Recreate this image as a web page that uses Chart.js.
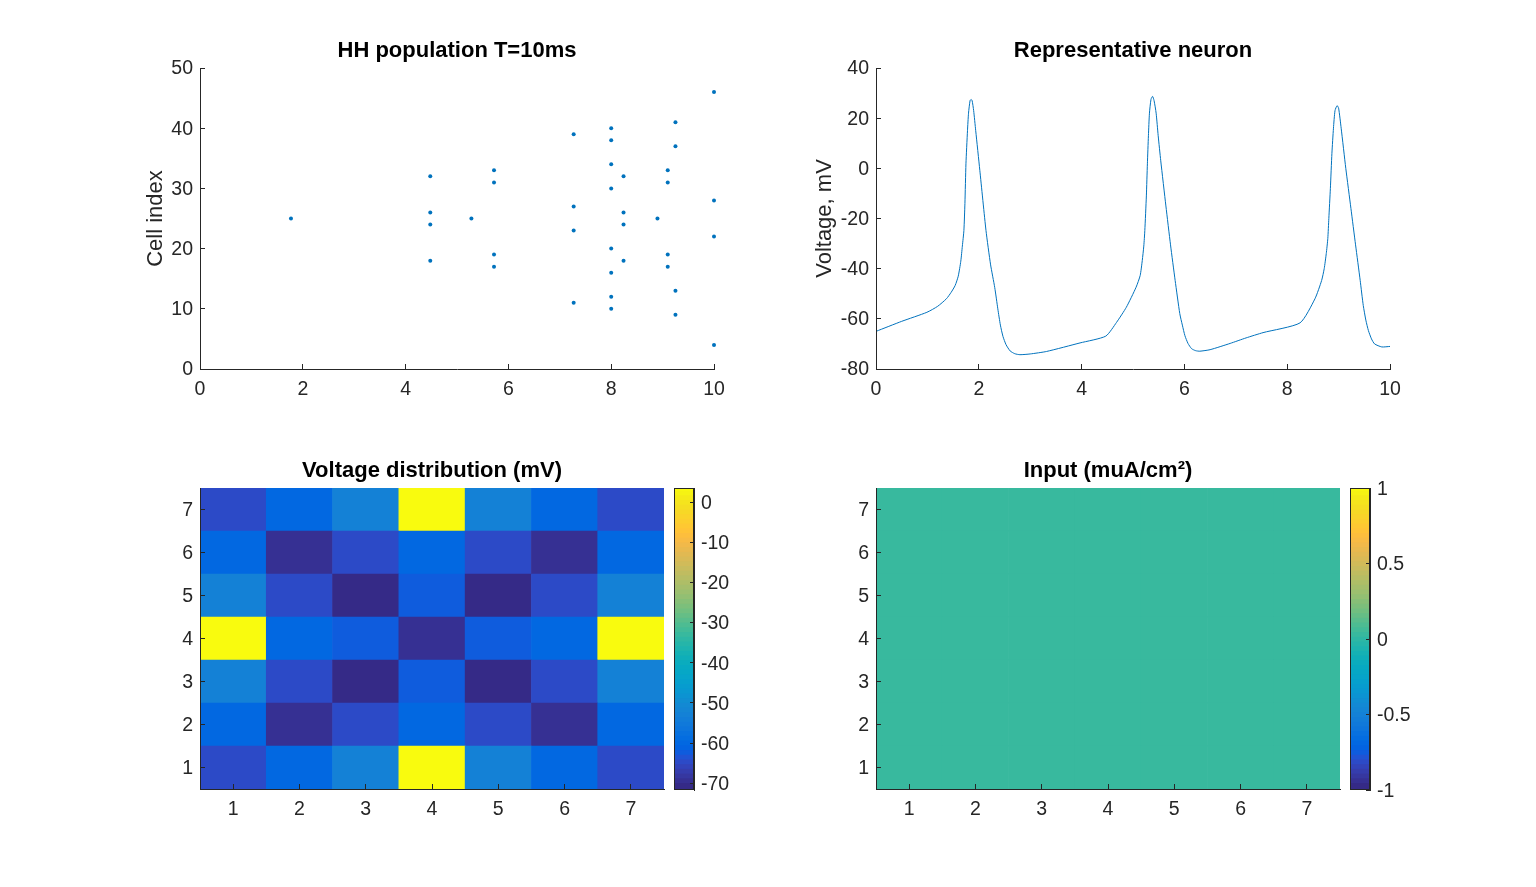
<!DOCTYPE html>
<html>
<head>
<meta charset="utf-8">
<title>HH population</title>
<script src="https://cdn.jsdelivr.net/npm/chart.js@4/dist/chart.umd.min.js"></script>
<style>
html, body { margin: 0; padding: 0; background: #fff; }
body { position: relative; width: 1536px; height: 887px; overflow: hidden; }
canvas { position: absolute; }
</style>
</head>
<body>
<canvas id="raster"></canvas>
<canvas id="neuron"></canvas>
<canvas id="voltage"></canvas>
<canvas id="voltageBar"></canvas>
<canvas id="input"></canvas>
<canvas id="inputBar"></canvas>
<script>
// raster: spike times and the cell that fired
const spikeTimes = [1.77, 4.48, 4.48, 4.48, 4.48, 5.28, 5.72, 5.72, 5.72, 5.72, 7.27, 7.27, 7.27, 7.27,
    8, 8, 8, 8, 8, 8, 8, 8, 8.24, 8.24, 8.24, 8.24, 8.9, 9.1, 9.1, 9.1, 9.1, 9.25, 9.25, 9.25, 9.25, 10, 10, 10, 10];
const spikeCells = [25, 32, 26, 24, 18, 25, 33, 31, 19, 17, 39, 27, 23, 11,
    40, 38, 34, 30, 20, 16, 12, 10, 32, 26, 24, 18, 25, 33, 31, 19, 17, 41, 37, 13, 9, 46, 28, 22, 4];

// representative neuron trace
const traceTime = [0, 0.5, 0.99, 1.2, 1.37, 1.46, 1.54, 1.6, 1.65, 1.68, 1.71, 1.73, 1.75, 1.78, 1.8, 1.83, 1.85, 1.87, 1.9, 1.94, 2.02, 2.14, 2.23, 2.31, 2.37, 2.42, 2.47, 2.53, 2.61, 2.7, 2.8, 3, 3.32, 3.97, 4.47,
    4.68, 4.87, 5.06, 5.14, 5.18, 5.21, 5.23, 5.26, 5.28, 5.3, 5.32, 5.35, 5.38, 5.41, 5.45, 5.49, 5.54, 5.64, 5.73, 5.82, 5.91, 5.96, 6.01, 6.07, 6.14, 6.22, 6.3, 6.5, 6.89, 7.2, 7.53, 8.25,
    8.54, 8.67, 8.72, 8.76, 8.79, 8.81, 8.84, 8.87, 8.9, 8.93, 8.97, 9, 9.05, 9.14, 9.24, 9.33, 9.42, 9.48, 9.53, 9.58, 9.64, 9.7, 9.84, 10];
const traceVolt = [-65, -61, -57.4, -55, -52, -49.5, -46.7, -43, -37, -31, -24.8, -14, 1.8, 15, 22, 27, 27.5, 27, 23, 15, -0.8, -24.8, -38.5, -47.5, -56, -62.5, -67, -70.3, -72.8, -73.9, -74.3, -74, -73, -69.6, -66.9,
    -61.4, -55.4, -47.4, -42.7, -36.8, -31, -24.8, -11, 1.8, 13, 22, 27.5, 28.7, 27, 22, 13, 3, -15, -30.5, -44.7, -57.9, -62.5, -66.7, -69.8, -71.9, -72.7, -72.9, -72.3, -69.8, -67.6, -65.5, -61.6,
    -52, -44.7, -40, -34, -28, -20, -8, 6, 16, 23, 25, 24, 16, 0, -16, -30.5, -44.7, -54.7, -60.5, -64.7, -68, -70, -71.2, -71];

// voltage distribution, rows from y=1 to y=7
const gridCategories = ['1', '2', '3', '4', '5', '6', '7'];
const gridRows = [1, 2, 3, 4, 5, 6, 7];
const voltageCells = [
    [-65, -60.5, -53.5, 3.5, -53.5, -60.5, -65],
    [-60.5, -70, -65, -60.5, -65, -70, -60.5],
    [-53.5, -65, -71, -63, -71, -65, -53.5],
    [3.5, -60.5, -63, -70, -63, -60.5, 3.5],
    [-53.5, -65, -71, -63, -71, -65, -53.5],
    [-60.5, -70, -65, -60.5, -65, -70, -60.5],
    [-65, -60.5, -53.5, 3.5, -53.5, -60.5, -65]
];
const voltageLimits = [-71.7, 3.5];
const inputCells = [
    [0, 0, 0, 0, 0, 0, 0],
    [0, 0, 0, 0, 0, 0, 0],
    [0, 0, 0, 0, 0, 0, 0],
    [0, 0, 0, 0, 0, 0, 0],
    [0, 0, 0, 0, 0, 0, 0],
    [0, 0, 0, 0, 0, 0, 0],
    [0, 0, 0, 0, 0, 0, 0]
];
const inputLimits = [-1, 1];

// tick labels
const timeTicks = [0, 2, 4, 6, 8, 10];
const cellTicks = [0, 10, 20, 30, 40, 50];
const voltTicks = [-80, -60, -40, -20, 0, 20, 40];
const voltageBarTicks = [-70, -60, -50, -40, -30, -20, -10, 0];
const inputBarTicks = [-1, -0.5, 0, 0.5, 1];

const parula = [[.2081,.1663,.5292],[.2116,.1898,.5777],[.2123,.2138,.627],[.2081,.2386,.6771],[.1959,.2645,.7279],[.1707,.2919,.7792],[.1253,.3242,.8303],[.0591,.3598,.8683],
    [.0117,.3875,.882],[.006,.4086,.8828],[.0165,.4266,.8786],[.0329,.443,.872],[.0498,.4586,.8641],[.0629,.4737,.8554],[.0723,.4887,.8467],[.0779,.504,.8384],
    [.0793,.52,.8312],[.0749,.5375,.8263],[.0641,.557,.824],[.0488,.5772,.8228],[.0343,.5966,.8199],[.0265,.6137,.8135],[.0239,.6287,.8038],[.0231,.6418,.7913],
    [.0228,.6535,.7768],[.0267,.6642,.7607],[.0384,.6743,.7436],[.059,.6838,.7254],[.0843,.6928,.7062],[.1133,.7015,.6859],[.1453,.7098,.6646],[.1801,.7177,.6424],
    [.2178,.725,.6193],[.2586,.7317,.5954],[.3022,.7376,.5712],[.3482,.7424,.5473],[.3953,.7459,.5244],[.442,.7481,.5033],[.4871,.7491,.484],[.53,.7491,.4661],
    [.5709,.7485,.4494],[.6099,.7473,.4337],[.6473,.7456,.4188],[.6834,.7435,.4044],[.7184,.7411,.3905],[.7525,.7384,.3768],[.7858,.7356,.3633],[.8185,.7327,.3498],
    [.8507,.7299,.336],[.8824,.7274,.3217],[.9139,.7258,.3063],[.945,.7261,.2886],[.9739,.7314,.2666],[.9938,.7455,.2403],[.999,.7653,.2164],[.9955,.7861,.1967],
    [.988,.8066,.1794],[.9789,.8271,.1633],[.9697,.8481,.1475],[.9626,.8705,.1309],[.9589,.8949,.1132],[.9598,.9218,.0948],[.9661,.9514,.0755],[.9763,.9831,.0538]];

const inkColor = '#262626';
const lineColor = '#0072BD';
const fontFamily = '"Liberation Sans", Arial, sans-serif';
const tickSize = 19.5;

Chart.defaults.animation = false;
Chart.defaults.responsive = false;
Chart.defaults.devicePixelRatio = 1;
Chart.defaults.font.family = fontFamily;
Chart.defaults.color = inkColor;

function colorOf(value, limits) {
    let i = Math.floor((value - limits[0]) / (limits[1] - limits[0]) * parula.length);
    i = Math.max(0, Math.min(parula.length - 1, i));
    const c = parula[i];
    return 'rgb(' + Math.round(c[0] * 255) + ',' + Math.round(c[1] * 255) + ',' + Math.round(c[2] * 255) + ')';
}

function place(id, box) {
    const c = document.getElementById(id);
    c.width = box.w + box.ml + box.mr;
    c.height = box.h + box.mt + box.mb;
    c.style.left = (box.x - box.ml) + 'px';
    c.style.top = (box.y - box.mt) + 'px';
    return c;
}

// the axes sit exactly where given: fixed scale sizes instead of auto fit
function axisX(ticks, extra) {
    return Object.assign({
        min: 0, max: 10,
        afterBuildTicks: s => { s.ticks = ticks.map(v => ({ value: v })); },
        afterFit: s => { s.height = 40; },
        grid: { drawOnChartArea: false, tickLength: -5, color: inkColor, offset: false, z: 1 },
        border: { color: inkColor, z: 1 },
        ticks: { padding: 14, maxRotation: 0, autoSkip: false, font: { size: tickSize }, color: inkColor }
    }, extra);
}

function axisY(ticks, extra) {
    return Object.assign({
        afterBuildTicks: s => { s.ticks = ticks.map(v => ({ value: v })); },
        afterFit: s => { s.width = 70; },
        grid: { drawOnChartArea: false, tickLength: -5, color: inkColor, z: 1 },
        border: { color: inkColor, z: 1 },
        ticks: { padding: 12, labelOffset: 1, autoSkip: false, font: { size: tickSize }, color: inkColor }
    }, extra);
}

function baseOptions(title) {
    return {
        layout: { autoPadding: false, padding: { right: 30 } },
        plugins: {
            legend: { display: false },
            tooltip: { enabled: false },
            title: {
                display: true, text: title, fullSize: false, color: '#000',
                font: { size: 22, weight: 'bold' }, padding: { top: 10, bottom: 3.6 }
            }
        }
    };
}

function yTitle(text, pad) {
    return { display: true, text: text, color: inkColor, font: { size: 22 }, padding: { top: pad, bottom: 0 } };
}

function rasterChart() {
    const canvas = place('raster', { x: 200, y: 68, w: 514, h: 301, ml: 70, mr: 30, mt: 40, mb: 40 });
    new Chart(canvas, {
        type: 'scatter',
        data: { datasets: [{
            data: spikeTimes.map((t, i) => ({ x: t, y: spikeCells[i] })),
            pointRadius: 2, pointBackgroundColor: lineColor, pointBorderWidth: 0, clip: false
        }] },
        options: Object.assign(baseOptions('HH population T=10ms'), {
            scales: {
                x: axisX(timeTicks, { type: 'linear' }),
                y: axisY(cellTicks, { min: 0, max: 50, title: yTitle('Cell index', 13) })
            }
        })
    });
}

function neuronChart() {
    const canvas = place('neuron', { x: 876, y: 68, w: 514, h: 301, ml: 70, mr: 30, mt: 40, mb: 40 });
    new Chart(canvas, {
        type: 'line',
        data: { datasets: [{
            data: traceTime.map((t, i) => ({ x: t, y: traceVolt[i] })),
            borderColor: lineColor, borderWidth: 1, pointRadius: 0, tension: 0.2
        }] },
        options: Object.assign(baseOptions('Representative neuron'), {
            scales: {
                x: axisX(timeTicks, { type: 'linear' }),
                y: axisY(voltTicks, { min: -80, max: 40, title: yTitle('Voltage, mV', 6) })
            }
        })
    });
}

function heatChart(id, box, title, cells, limits) {
    const canvas = place(id, box);
    new Chart(canvas, {
        type: 'bar',
        data: {
            labels: gridCategories,
            datasets: cells.map((row, r) => ({
                data: row.map(() => [gridRows[r] - 0.5, gridRows[r] + 0.5]),
                backgroundColor: row.map(v => colorOf(v, limits)),
                borderWidth: 0, barPercentage: 1, categoryPercentage: 1
            }))
        },
        options: Object.assign(baseOptions(title), {
            scales: {
                x: {
                    stacked: true,
                    afterFit: s => { s.height = 40; },
                    grid: { drawOnChartArea: false, tickLength: -5, color: inkColor, offset: false, z: 1 },
                    border: { color: inkColor, z: 1 },
                    ticks: { padding: 14, maxRotation: 0, font: { size: tickSize }, color: inkColor }
                },
                y: axisY(gridRows, { min: 0.5, max: 7.5 })
            }
        })
    });
}

function colorBar(id, box, limits, ticks) {
    const canvas = place(id, box);
    const step = (limits[1] - limits[0]) / parula.length;
    new Chart(canvas, {
        type: 'bar',
        data: {
            labels: [''],
            // each band runs a little into the next so no seam shows between them
            datasets: parula.map((c, i) => ({
                data: [[limits[0] + i * step, limits[0] + (i + 1.4) * step]],
                backgroundColor: colorOf(limits[0] + (i + 0.5) * step, limits),
                borderWidth: 0, barPercentage: 1, categoryPercentage: 1
            }))
        },
        options: {
            layout: { autoPadding: false, padding: { top: box.mt, bottom: box.mb, left: box.ml } },
            plugins: { legend: { display: false }, tooltip: { enabled: false } },
            scales: {
                x: { stacked: true, display: false },
                y: {
                    position: 'right', min: limits[0], max: limits[1],
                    afterBuildTicks: s => { s.ticks = ticks.map(v => ({ value: v })); },
                    afterFit: s => { s.width = box.mr; },
                    grid: { drawOnChartArea: false, tickLength: -4, color: inkColor, z: 1 },
                    border: { color: inkColor, z: 1 },
                    ticks: { padding: 11, labelOffset: 1.5, autoSkip: false, font: { size: tickSize }, color: inkColor, callback: v => String(v) }
                }
            }
        },
        plugins: [{
            id: 'frame',
            afterDraw(chart) {
                const a = chart.chartArea, g = chart.ctx;
                g.strokeStyle = inkColor;
                g.lineWidth = 1;
                g.strokeRect(a.left + 0.5, a.top + 0.5, a.right - a.left - 1, a.bottom - a.top - 1);
            }
        }]
    });
}

rasterChart();
neuronChart();
heatChart('voltage', { x: 200, y: 488, w: 464, h: 301, ml: 70, mr: 30, mt: 40, mb: 40 }, 'Voltage distribution (mV)', voltageCells, voltageLimits);
colorBar('voltageBar', { x: 674, y: 488, w: 20, h: 302, ml: 4, mr: 60, mt: 30, mb: 30 }, voltageLimits, voltageBarTicks);
heatChart('input', { x: 876, y: 488, w: 464, h: 301, ml: 70, mr: 30, mt: 40, mb: 40 }, 'Input (muA/cm²)', inputCells, inputLimits);
colorBar('inputBar', { x: 1350, y: 488, w: 20, h: 302, ml: 4, mr: 60, mt: 30, mb: 30 }, inputLimits, inputBarTicks);
</script>
</body>
</html>
